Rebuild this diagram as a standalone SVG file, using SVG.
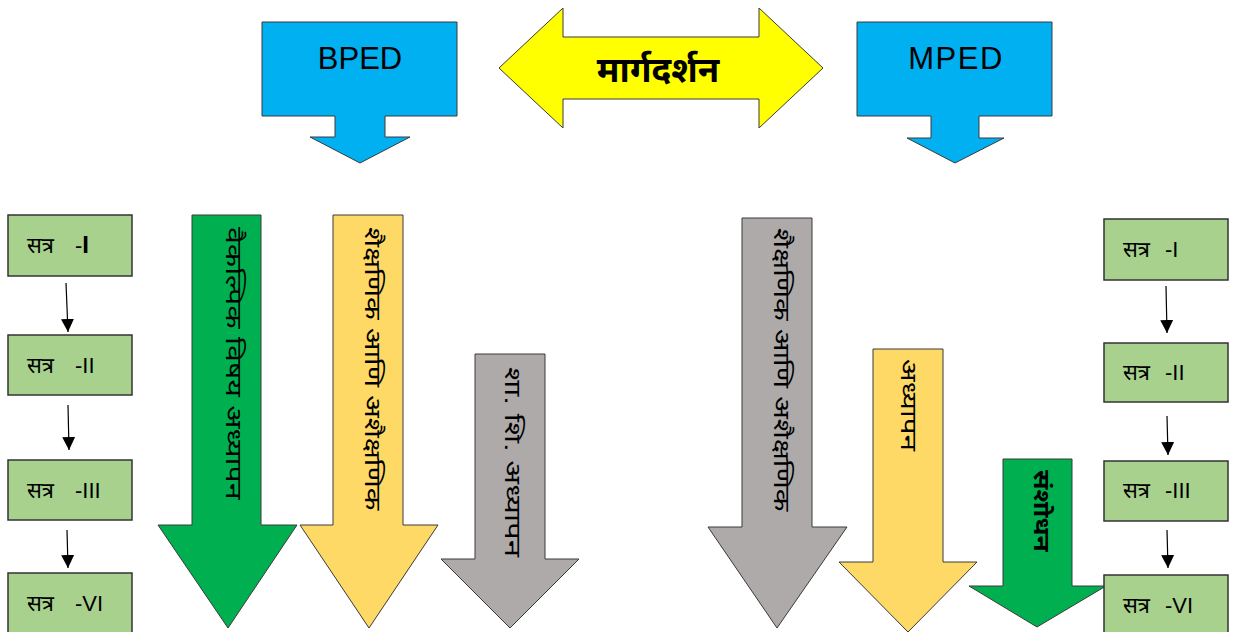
<svg xmlns="http://www.w3.org/2000/svg" width="1238" height="632" viewBox="0 0 1238 632">
<defs>
<style>
.blue{fill:#00B0F0;stroke:#3a3a3a;stroke-width:1}
.dbl{fill:#FFFF00;stroke:#3a3a3a;stroke-width:1}
.grn{fill:#00B050;stroke:#3a3a3a;stroke-width:1}
.ylw{fill:#FFD966;stroke:#3a3a3a;stroke-width:1}
.gry{fill:#AEAAAA;stroke:#3a3a3a;stroke-width:1}
.box{fill:#A9D18E;stroke:#333;stroke-width:1.5}
.lat{font-family:"Liberation Sans","DejaVu Sans",sans-serif;font-size:31px;fill:#000}
.dev{font-family:"Liberation Sans","Noto Sans Devanagari","Mangal","Lohit Devanagari",sans-serif;font-size:22px;fill:#000}
.bold{font-weight:bold}
.conn{stroke:#000;stroke-width:1.2;fill:none}
</style>
<marker id="ah" viewBox="0 0 10 10" refX="10" refY="5" markerWidth="13" markerHeight="13" markerUnits="userSpaceOnUse" orient="auto">
<path d="M0,0 L10,5 L0,10 Z" fill="#000"/>
</marker>
</defs>
<rect width="1238" height="632" fill="#fff"/>

<g id="bped">
<path class="blue" d="M262,22 H457 V116 H385 V137 H410 L360,163 L310,137 H335 V116 H262 Z"/>
<text class="lat" x="360" y="69" text-anchor="middle">BPED</text>
</g>

<g id="margdarshan">
<path class="dbl" d="M499,68 L563,8 V37 H759 V8 L823,68 L759,128 V99 H563 V128 Z"/>
<text class="dev bold" x="658" y="82" text-anchor="middle" style="font-size:35px">मार्गदर्शन</text>
</g>

<g id="mped">
<path class="blue" d="M857,22 H1052 V116 H979 V138 H1004 L955,163 L907,138 H931 V116 H857 Z"/>
<text class="lat" x="956" y="69" text-anchor="middle" letter-spacing="1.5">MPED</text>
</g>

<g id="left-s1"><rect class="box" x="8" y="215" width="124" height="61"/><text class="dev" x="27" y="253">सत्र<tspan x="75">-</tspan><tspan class="bold" style="font-size:24px">I</tspan></text></g>
<g id="left-s2"><rect class="box" x="8" y="335" width="124" height="60"/><text class="dev" x="27" y="373">सत्र<tspan x="75">-II</tspan></text></g>
<g id="left-s3"><rect class="box" x="8" y="460" width="124" height="60"/><text class="dev" x="27" y="498">सत्र<tspan x="75">-III</tspan></text></g>
<g id="left-s4"><rect class="box" x="8" y="573" width="124" height="62"/><text class="dev" x="27" y="611">सत्र<tspan x="75">-VI</tspan></text></g>

<g id="right-s1"><rect class="box" x="1104" y="219" width="124" height="61"/><text class="dev" x="1123" y="257">सत्र<tspan x="1165">-I</tspan></text></g>
<g id="right-s2"><rect class="box" x="1104" y="343" width="124" height="59"/><text class="dev" x="1123" y="380">सत्र<tspan x="1165">-II</tspan></text></g>
<g id="right-s3"><rect class="box" x="1104" y="461" width="124" height="60"/><text class="dev" x="1123" y="498">सत्र<tspan x="1165">-III</tspan></text></g>

<g id="vaikalpik">
<path class="grn" d="M192,215 H261 V525 H297 L228,628 L158,525 H192 Z"/>
<text class="dev" transform="translate(233,227) rotate(90) scale(1.38,1)" dominant-baseline="central">वैकल्पिक विषय अध्यापन</text>
</g>

<g id="shaikshanik-b">
<path class="ylw" d="M333,215 H403 V525 H438 L369,628 L300,525 H333 Z"/>
<text class="dev" transform="translate(373,227) rotate(90) scale(1.34,1)" dominant-baseline="central">शैक्षणिक आणि अशैक्षणिक</text>
</g>

<g id="shashi">
<path class="gry" d="M475,354 H545 V559 H579 L510,628 L441,559 H475 Z"/>
<text class="dev" transform="translate(512,367) rotate(90) scale(1.42,1)" dominant-baseline="central">शा. शि. अध्यापन</text>
</g>

<g id="shaikshanik-m">
<path class="gry" d="M742,218 H812 V527 H847 L777,628 L708,527 H742 Z"/>
<text class="dev" transform="translate(782,228) rotate(90) scale(1.34,1)" dominant-baseline="central">शैक्षणिक आणि अशैक्षणिक</text>
</g>

<g id="adhyapan">
<path class="ylw" d="M873,349 H943 V562 H977 L908,632 L839,562 H873 Z"/>
<text class="dev" transform="translate(909,359) rotate(90) scale(1.35,1)" dominant-baseline="central">अध्यापन</text>
</g>

<g id="sanshodhan">
<path class="grn" d="M1003,459 H1072 V586 H1106 L1037,627 L969,586 H1003 Z"/>
<text class="dev bold" transform="translate(1042,470) rotate(90) scale(1.2,1)" dominant-baseline="central">संशोधन</text>
</g>

<g id="right-s4"><rect class="box" x="1104" y="575" width="124" height="60"/><text class="dev" x="1123" y="613">सत्र<tspan x="1165">-VI</tspan></text></g>

<g id="connectors">
<line class="conn" x1="66" y1="283" x2="68" y2="332" marker-end="url(#ah)"/>
<line class="conn" x1="68" y1="405" x2="69" y2="450" marker-end="url(#ah)"/>
<line class="conn" x1="67" y1="530" x2="68" y2="568" marker-end="url(#ah)"/>
<line class="conn" x1="1166" y1="286" x2="1167" y2="333" marker-end="url(#ah)"/>
<line class="conn" x1="1167" y1="416" x2="1168" y2="455" marker-end="url(#ah)"/>
<line class="conn" x1="1167" y1="530" x2="1168" y2="568" marker-end="url(#ah)"/>
</g>
</svg>
